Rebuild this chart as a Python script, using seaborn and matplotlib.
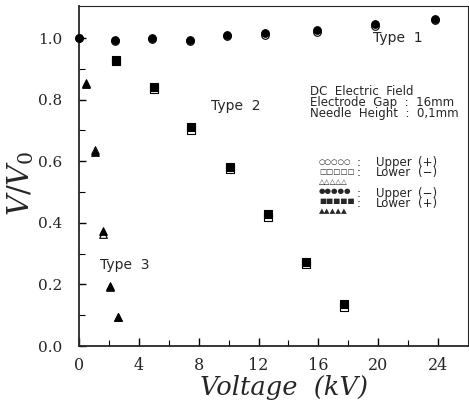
import pandas as pd
import numpy as np
import matplotlib
matplotlib.use('Agg')
import matplotlib.pyplot as plt
import seaborn as sns

# %%
# Values (V in kV, V/V0)
type1_kv = [0, 2.4, 4.9, 7.4, 9.9, 12.4, 15.9, 19.8, 23.8]
type1_filled = [1.0, 0.995, 1.0, 0.995, 1.01, 1.015, 1.025, 1.045, 1.062]
type1_open = [1.0, 0.99, 0.997, 0.99, 1.005, 1.01, 1.02, 1.04, 1.058]

type2_kv = [2.5, 5.0, 7.5, 10.1, 12.6, 15.2, 17.7]
type2_filled = [0.93, 0.84, 0.71, 0.58, 0.428, 0.272, 0.135]
type2_open = [0.925, 0.835, 0.702, 0.575, 0.418, 0.265, 0.128]

type3_kv = [0.5, 1.1, 1.6, 2.1, 2.6]
type3_filled = [0.85, 0.63, 0.372, 0.195, 0.094]
type3_open = [0.855, 0.635, 0.365, 0.19, 0.094]

x_ticks = [0, 4, 8, 12, 16, 20, 24]
y_ticks = [0.0, 0.2, 0.4, 0.6, 0.8, 1.0]

# key rows: symbols, label, polarity
key_symbols = ['○○○○○', '□□□□□', '△△△△△', '●●●●●', '■■■■■', '▲▲▲▲▲']
key_labels = ['Upper', 'Lower', '', 'Upper', 'Lower', '']
key_signs = ['(+)', '(−)', '', '(−)', '(+)', '']

# %%
sns.set_style('ticks')
plt.rcParams['font.family'] = ['DejaVu Sans']
plt.rcParams['mathtext.fontset'] = 'dejavuserif'

W, H = 469, 405
fig = plt.figure(figsize=(W / 100, H / 100), dpi=100)
ax = fig.add_axes([79 / W, 1 - 346 / H, (468 - 79) / W, (346 - 6) / H])

series = [
    (type1_kv, type1_open, 'o', 'white', 30),
    (type1_kv, type1_filled, 'o', 'black', 30),
    (type2_kv, type2_open, 's', 'white', 26),
    (type2_kv, type2_filled, 's', 'black', 26),
    (type3_kv, type3_open, '^', 'white', 30),
    (type3_kv, type3_filled, '^', 'black', 30),
]
for xs, ys, mk, face, size in series:
    df = pd.DataFrame({'kv': xs, 'ratio': ys})
    sns.scatterplot(data=df, x='kv', y='ratio', marker=mk, s=size,
                    color=face, edgecolor='black', linewidth=0.8,
                    ax=ax, clip_on=False, zorder=3)

ax.set_xlim(0, 26)
ax.set_ylim(0, 1.104)
ax.set_xticks(x_ticks)
ax.set_yticks(y_ticks)
ax.set_xticks(np.arange(0, 26, 2), minor=True)
ax.set_yticks(np.arange(0, 1.1, 0.1), minor=True)
ax.set_xticklabels([str(t) for t in x_ticks], family='DejaVu Serif', fontsize=11.5)
ax.set_yticklabels([f'{t:.1f}' for t in y_ticks], family='DejaVu Serif', fontsize=11)
ax.tick_params(which='both', direction='in', color='black')
ax.tick_params(axis='x', which='major', length=6, width=1, pad=8)
ax.tick_params(axis='y', which='major', length=5, width=1, pad=12)
ax.tick_params(which='minor', length=4, width=0.8)

for side in ['left', 'bottom']:
    ax.spines[side].set_linewidth(1.3)
for side in ['top', 'right']:
    ax.spines[side].set_visible(True)
    ax.spines[side].set_linewidth(0.8)

ax.set_xlabel('')
ax.set_ylabel('')
fig.text(284 / W, 1 - 388 / H, 'Voltage  (kV)', family='DejaVu Serif',
         style='italic', fontsize=18.5, ha='center', va='center')
fig.text(21 / W, 1 - 183 / H, r'$V/V_0$', fontsize=21, rotation=90,
         ha='center', va='center')

# Type annotations
for label, px, py in [('Type  1', 398, 38), ('Type  2', 236, 106), ('Type  3', 125, 265)]:
    fig.text(px / W, 1 - py / H, label, fontsize=10, ha='center', va='center')

# Experiment conditions
fig.text(310 / W, 1 - 85 / H,
         'DC  Electric  Field\nElectrode  Gap  :  16mm\nNeedle  Height  :  0,1mm',
         fontsize=8.5, ha='left', va='top', linespacing=0.8)

# Symbol key, one text block per column
key_top = 1 - 156 / H
colons = [':' if lab else '' for lab in key_labels]
fig.text(319 / W, 1 - 159 / H, '\n'.join(key_symbols), fontsize=5.4,
         ha='left', va='top', linespacing=1.76)
fig.text(357 / W, key_top, '\n'.join(colons), fontsize=8.5,
         ha='left', va='top', linespacing=0.72)
fig.text(376 / W, key_top, '\n'.join(key_labels), fontsize=8.5,
         ha='left', va='top', linespacing=0.72)
fig.text(418 / W, key_top, '\n'.join(key_signs), fontsize=8.5,
         ha='left', va='top', linespacing=0.72)

fig.savefig('out.png', dpi=100)
